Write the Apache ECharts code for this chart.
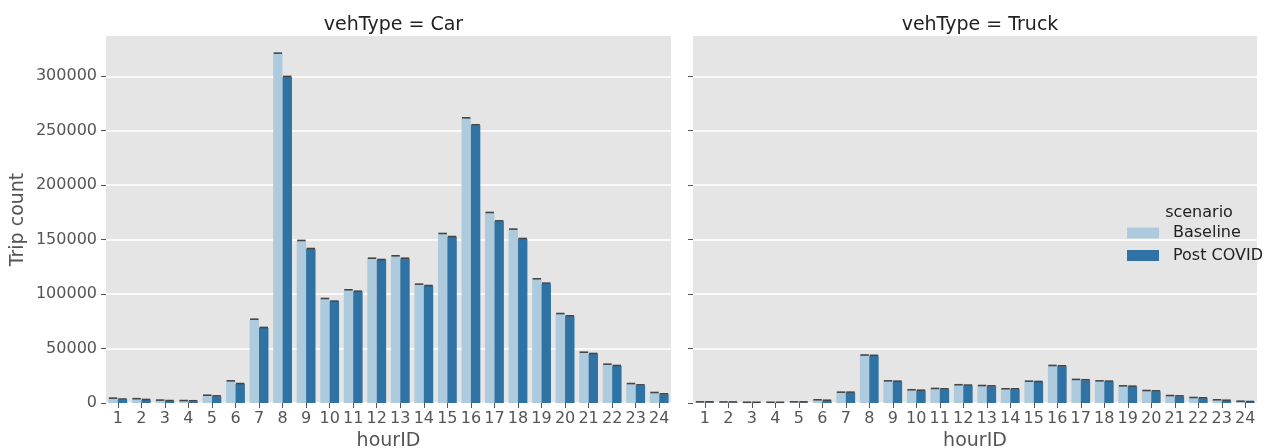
<!DOCTYPE html>
<html>
<head>
<meta charset="utf-8">
<script src="https://cdn.jsdelivr.net/npm/echarts@6/dist/echarts.min.js"></script>
<style>
  html, body { margin: 0; padding: 0; background: #ffffff; }
  #chart { width: 1267px; height: 448px; }
</style>
</head>
<body>
<div id="chart"></div>
<script>
// Hourly trip counts by vehicle type, baseline vs post-COVID scenario
const hours = ['1','2','3','4','5','6','7','8','9','10','11','12','13','14','15','16','17','18','19','20','21','22','23','24'];
const scenarios = ['Baseline', 'Post COVID'];

const carBaseline = [4000, 3500, 2200, 1800, 6700, 19900, 76500, 320800, 148800, 95500, 103500, 132500,
                     134700, 108700, 155200, 261400, 174500, 159200, 113600, 81700, 46200, 35200, 17400, 9200];
const carPost     = [3200, 2800, 1800, 1600, 6100, 17400, 68900, 299400, 141400, 93100, 102200, 131300,
                     132500, 107400, 152400, 255000, 166800, 150600, 109600, 79600, 45000, 34000, 16200, 8000];
const truckBaseline = [600, 500, 200, 200, 600, 2500, 9500, 43600, 19900, 11700, 12900, 16300,
                       15600, 12600, 19600, 34000, 21200, 19900, 15300, 11000, 6400, 4600, 2500, 1200];
const truckPost     = [600, 500, 200, 200, 600, 2100, 9500, 43300, 19600, 11300, 12600, 16000,
                       15300, 12600, 19300, 33700, 20900, 19600, 15000, 10700, 6100, 4300, 2100, 900];

const yTickValues = [0, 50000, 100000, 150000, 200000, 250000, 300000];
const yMax = 337000;

const COLORS = ['#aecbdd', '#2f72a4'];
const FONT = 'DejaVu Sans';
const TICK_TEXT = '#555555';

// Short horizontal cap drawn on top of each bar (confidence-interval marker)
function capRenderer(slot) {
  return function (params, api) {
    const c = api.coord([api.value(0), api.value(1)]);
    const band = api.size([1, 0])[0];
    const bw = band * 0.4;
    const cx = c[0] + (slot - 0.5) * bw;
    const half = bw * 0.45;
    return {
      type: 'line',
      shape: { x1: cx - half, y1: c[1] - 0.5, x2: cx + half, y2: c[1] - 0.5 },
      style: { stroke: '#454545', lineWidth: 1.6 }
    };
  };
}

function xAxisFor(gridIndex) {
  return {
    type: 'category', gridIndex, data: hours,
    name: 'hourID', nameLocation: 'middle', nameGap: 27,
    nameTextStyle: { fontFamily: FONT, fontSize: 19, color: TICK_TEXT },
    axisLine: { show: false },
    axisTick: { show: true, alignWithLabel: true, length: 5, lineStyle: { color: TICK_TEXT, width: 1 } },
    axisLabel: { fontFamily: FONT, fontSize: 16, color: TICK_TEXT, margin: 8, interval: 0 },
    splitLine: { show: false }
  };
}

function yAxisFor(gridIndex, withLabels) {
  return {
    type: 'value', gridIndex, min: 0, max: yMax,
    name: withLabels ? 'Trip count' : '', nameLocation: 'middle', nameGap: 78,
    nameTextStyle: { fontFamily: FONT, fontSize: 19, color: TICK_TEXT },
    axisLine: { show: false },
    axisTick: { show: true, length: 5, customValues: yTickValues, lineStyle: { color: TICK_TEXT, width: 1 } },
    axisLabel: { show: withLabels, customValues: yTickValues, formatter: v => String(v),
                 fontFamily: FONT, fontSize: 16, color: TICK_TEXT, margin: 9 },
    splitLine: { show: true, lineStyle: { color: '#ffffff', width: 1.5 } }
  };
}

function barSeries(name, data, gridIndex, colorIndex) {
  return {
    type: 'bar', name, data,
    xAxisIndex: gridIndex, yAxisIndex: gridIndex,
    barGap: '0%', barCategoryGap: '20%',
    itemStyle: { color: COLORS[colorIndex] },
    emphasis: { disabled: true },
    z: 2
  };
}

function capSeries(name, data, gridIndex, slot) {
  return {
    type: 'custom', name: name + ' CI',
    xAxisIndex: gridIndex, yAxisIndex: gridIndex,
    data: data.map((v, i) => [i, v]),
    renderItem: capRenderer(slot),
    silent: true, z: 3
  };
}

const chart = echarts.init(document.getElementById('chart'), null, { renderer: 'canvas' });

chart.setOption({
  animation: false,
  backgroundColor: '#ffffff',
  textStyle: { fontFamily: FONT },
  title: [
    { text: 'vehType = Car', left: 388.5, top: 11, textAlign: 'center',
      textStyle: { fontFamily: FONT, fontSize: 19, fontWeight: 'normal', color: '#222222' } },
    { text: 'vehType = Truck', left: 975, top: 11, textAlign: 'center',
      textStyle: { fontFamily: FONT, fontSize: 19, fontWeight: 'normal', color: '#222222' } },
    { text: 'scenario', left: 1194, top: 200, textAlign: 'center',
      textStyle: { fontFamily: FONT, fontSize: 16, fontWeight: 'normal', color: '#222222' } }
  ],
  legend: {
    data: scenarios,
    orient: 'vertical',
    left: 1127, top: 224,
    padding: 0,
    itemWidth: 32, itemHeight: 11, itemGap: 4.5,
    icon: 'rect',
    selectedMode: false,
    textStyle: { fontFamily: FONT, fontSize: 16, color: '#222222', lineHeight: 18, padding: [0, 0, 0, 9] }
  },
  grid: [
    { left: 106, right: 596, top: 36, bottom: 45, outerBoundsMode: 'none', containLabel: false,
      show: true, backgroundColor: '#e5e5e5', borderWidth: 0 },
    { left: 693, right: 10, top: 36, bottom: 45, outerBoundsMode: 'none', containLabel: false,
      show: true, backgroundColor: '#e5e5e5', borderWidth: 0 }
  ],
  xAxis: [xAxisFor(0), xAxisFor(1)],
  yAxis: [yAxisFor(0, true), yAxisFor(1, false)],
  series: [
    barSeries(scenarios[0], carBaseline, 0, 0),
    barSeries(scenarios[1], carPost, 0, 1),
    barSeries(scenarios[0], truckBaseline, 1, 0),
    barSeries(scenarios[1], truckPost, 1, 1),
    capSeries(scenarios[0], carBaseline, 0, 0),
    capSeries(scenarios[1], carPost, 0, 1),
    capSeries(scenarios[0], truckBaseline, 1, 0),
    capSeries(scenarios[1], truckPost, 1, 1)
  ]
});
</script>
</body>
</html>
